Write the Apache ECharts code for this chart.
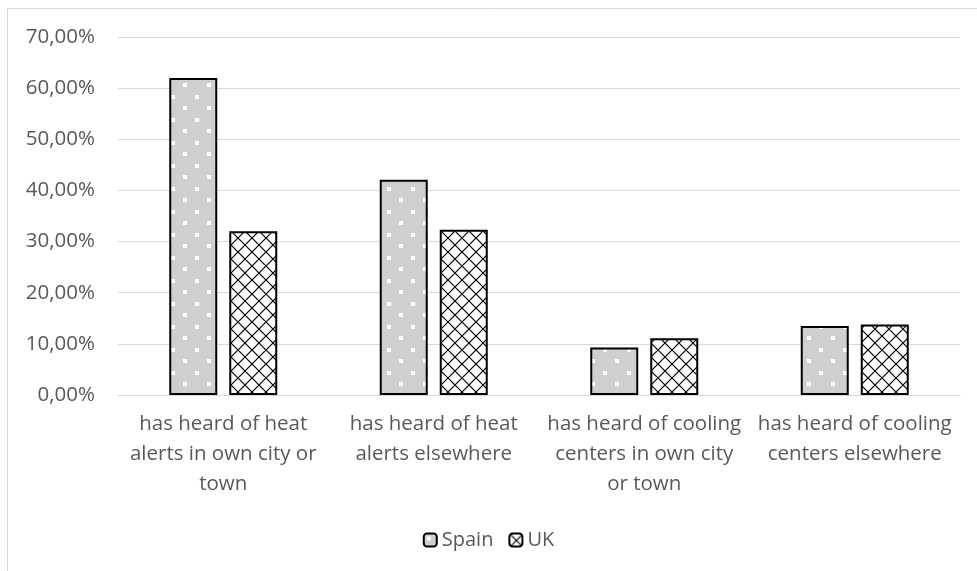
<!DOCTYPE html>
<html>
<head>
<meta charset="utf-8">
<title>Heat alerts and cooling centers awareness</title>
<script src="https://cdn.jsdelivr.net/npm/echarts@6/dist/echarts.min.js"></script>
<style>
    html, body {
        margin: 0;
        background: #fff;
    }
    #main {
        width: 977px;
        height: 571px;
    }
</style>
</head>
<body>
<div id="main"></div>
<script>
// data
var categories = [
    'has heard of heat\nalerts in own city or\ntown',
    'has heard of heat\nalerts elsewhere',
    'has heard of cooling\ncenters in own city\nor town',
    'has heard of cooling\ncenters elsewhere'
];
var spain = [0.62, 0.421, 0.093, 0.135];
var uk = [0.32, 0.323, 0.111, 0.138];
var seriesNames = ['Spain', 'UK'];

// gray fill with small white squares
function dotPattern() {
    var c = document.createElement('canvas');
    c.width = 24;
    c.height = 23;
    var ctx = c.getContext('2d');
    ctx.fillStyle = '#d0cfcf';
    ctx.fillRect(0, 0, 24, 23);
    ctx.fillStyle = '#ffffff';
    ctx.fillRect(3, 3, 4, 4);
    ctx.fillRect(15, 14, 4, 4);
    return c;
}

// white fill with black diagonal cross-hatch
function crossPattern() {
    var c = document.createElement('canvas');
    c.width = 14;
    c.height = 14;
    var ctx = c.getContext('2d');
    ctx.fillStyle = '#ffffff';
    ctx.fillRect(0, 0, 14, 14);
    ctx.strokeStyle = '#000000';
    ctx.lineWidth = 1.2;
    ctx.beginPath();
    ctx.moveTo(0, 0); ctx.lineTo(14, 14);
    ctx.moveTo(14, 0); ctx.lineTo(0, 14);
    ctx.stroke();
    return c;
}

var myChart = echarts.init(document.getElementById('main'));

var font = 'Open Sans, Noto Sans, sans-serif';

option = {
    animation: false,
    backgroundColor: '#ffffff',
    graphic: [{
        type: 'rect',
        shape: {x: 7.5, y: 8.5, width: 1000, height: 600},
        style: {fill: 'none', stroke: '#d9d9d9', lineWidth: 1},
        silent: true
    }],
    grid: {
        left: 118,
        right: 17,
        top: 37,
        bottom: 176
    },
    legend: {
        top: 525,
        left: 'center',
        itemWidth: 13,
        itemHeight: 13,
        itemGap: 15,
        textStyle: {color: '#595959', fontSize: 20, fontFamily: font},
        data: seriesNames
    },
    xAxis: {
        type: 'category',
        data: categories,
        axisLine: {lineStyle: {color: '#d9d9d9', width: 1}},
        axisTick: {show: false},
        axisLabel: {
            color: '#595959',
            fontSize: 20.5,
            fontFamily: font,
            lineHeight: 30,
            margin: 14,
            interval: 0
        }
    },
    yAxis: {
        type: 'value',
        min: 0,
        max: 0.7,
        interval: 0.1,
        axisLine: {show: false},
        axisTick: {show: false},
        splitLine: {lineStyle: {color: '#d9d9d9', width: 1}},
        axisLabel: {
            color: '#595959',
            fontSize: 20.5,
            fontFamily: font,
            margin: 23,
            formatter: function (v) {
                return (v * 100).toFixed(2).replace('.', ',') + '%';
            }
        }
    },
    series: [
        {
            name: seriesNames[0],
            type: 'bar',
            data: spain,
            barWidth: 48,
            barGap: '25%',
            itemStyle: {
                color: {image: dotPattern(), repeat: 'repeat'},
                borderColor: '#000000',
                borderWidth: 2
            }
        },
        {
            name: seriesNames[1],
            type: 'bar',
            data: uk,
            barWidth: 48,
            itemStyle: {
                color: {image: crossPattern(), repeat: 'repeat'},
                borderColor: '#000000',
                borderWidth: 2
            }
        }
    ]
};
myChart.setOption(option);
</script>
</body>
</html>
